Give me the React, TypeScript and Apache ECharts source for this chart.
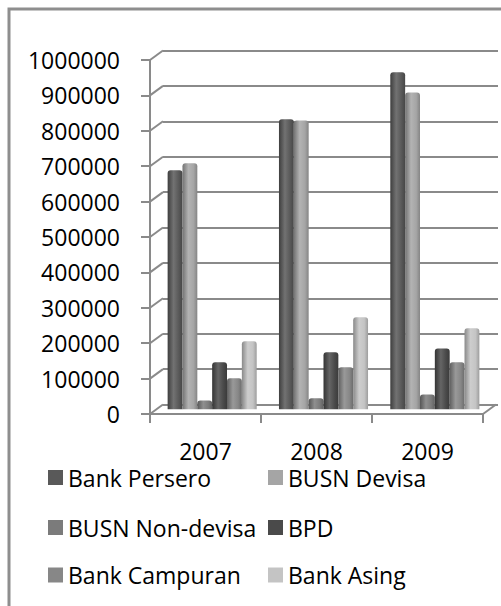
import React, { useEffect, useRef } from "react";
import * as echarts from "echarts";

const categories = ["2007", "2008", "2009"];
const seriesNames = ["Bank Persero", "BUSN Devisa", "BUSN Non-devisa", "BPD", "Bank Campuran", "Bank Asing"];
const bankPersero = [675000, 819000, 952000];
const busnDevisa = [695000, 816000, 895000];
const busnNonDevisa = [25000, 31000, 42000];
const bpd = [133000, 161000, 172000];
const bankCampuran = [88000, 119000, 133000];
const bankAsing = [192000, 260000, 229000];
const yTicks = [0, 100000, 200000, 300000, 400000, 500000, 600000, 700000, 800000, 900000, 1000000];

const seriesValues = [bankPersero, busnDevisa, busnNonDevisa, bpd, bankCampuran, bankAsing];
const colors = ["#595959", "#a5a5a5", "#7b7b7b", "#4a4a4a", "#878787", "#c4c4c4"];

const FONT = "'Open Sans', 'Noto Sans', sans-serif";
const FS = 23;
const LINE = "#8a8a8a";
const DX = 13;
const DY = -9.5;

function shade(hex: string, f: number): string {
  const n = parseInt(hex.slice(1), 16);
  let r = (n >> 16) & 255, g = (n >> 8) & 255, b = n & 255;
  const adj = (c: number) => {
    const v = f >= 0 ? c + (255 - c) * f : c * (1 + f);
    return Math.max(0, Math.min(255, Math.round(v)));
  };
  r = adj(r); g = adj(g); b = adj(b);
  return "#" + [r, g, b].map((c) => c.toString(16).padStart(2, "0")).join("");
}

function cylinder(c: string) {
  return new echarts.graphic.LinearGradient(0, 0, 1, 0, [
    { offset: 0, color: shade(c, -0.3) },
    { offset: 0.4, color: shade(c, 0.15) },
    { offset: 0.75, color: c },
    { offset: 1, color: shade(c, -0.2) },
  ]);
}

export default function App() {
  const ref = useRef<HTMLDivElement>(null);
  useEffect(() => {
    const chart = echarts.init(ref.current!, null, { renderer: "svg" });
    const rows: string[][] = [];
    for (let i = 0; i < seriesNames.length; i += 2) rows.push(seriesNames.slice(i, i + 2));
    const rowTops = [466, 516, 563.5];
    const nameColor: Record<string, string> = {};
    seriesNames.forEach((n, i) => (nameColor[n] = colors[i]));

    const option: any = {
      animation: false,
      backgroundColor: "#ffffff",
      graphic: [
        {
          type: "rect",
          shape: { x: 9, y: 9, width: 700, height: 700 },
          style: { fill: "none", stroke: "#8e8e8e", lineWidth: 3 },
          silent: true,
          z: 0,
        },
      ],
      grid: [
        { left: 150, top: 60, width: 333, height: 354 },
        { left: 150 + DX, top: 60 + DY, width: 335, height: 354 },
        { left: 156.5, top: 55.3, width: 334, height: 354 },
      ],
      xAxis: [
        {
          gridIndex: 0,
          type: "category",
          data: categories,
          axisLine: { show: true, lineStyle: { color: LINE, width: 2 } },
          axisTick: { show: true, length: 9, lineStyle: { color: LINE, width: 2 } },
          axisLabel: { color: "#000", fontSize: FS, fontFamily: FONT, margin: 29, lineHeight: 16 },
          splitLine: { show: false },
        },
        { gridIndex: 1, type: "category", data: categories, show: false },
        { gridIndex: 2, type: "category", data: categories, show: false },
      ],
      yAxis: [
        {
          gridIndex: 0,
          type: "value",
          min: 0,
          max: 1000000,
          interval: 100000,
          axisLine: { show: true, lineStyle: { color: LINE, width: 2 } },
          axisTick: { show: true, length: 9, lineStyle: { color: LINE, width: 2 } },
          axisLabel: {
            color: "#000",
            fontSize: FS,
            fontFamily: FONT,
            margin: 30,
            formatter: (v: number) => String(v),
          },
          splitLine: { show: false },
        },
        {
          gridIndex: 1,
          type: "value",
          min: 0,
          max: 1000000,
          interval: 100000,
          axisLine: { show: false },
          axisTick: { show: false },
          axisLabel: { show: false },
          splitLine: { show: true, lineStyle: { color: LINE, width: 2 } },
        },
        {
          gridIndex: 2,
          type: "value",
          min: 0,
          max: 1000000,
          interval: 100000,
          show: false,
          splitLine: { show: false },
        },
      ],
      legend: rows.map((names, i) => ({
        data: names.map((n, j) => ({
          name: n,
          itemStyle: { color: nameColor[n] },
          textStyle: j === 0 ? { width: 190 } : {},
        })),
        left: 48,
        top: rowTops[i],
        orient: "horizontal",
        itemWidth: 15,
        itemHeight: 15,
        itemGap: 10,
        padding: 0,
        icon: "rect",
        selectedMode: false,
        textStyle: { fontSize: FS, fontFamily: FONT, color: "#000", lineHeight: 16 },
      })),
      series: [
        ...seriesNames.map((name, i) => ({
          name,
          type: "bar",
          xAxisIndex: 2,
          yAxisIndex: 2,
          data: seriesValues[i],
          barGap: "0%",
          barCategoryGap: "20%",
          itemStyle: { color: cylinder(colors[i]), borderRadius: [3, 3, 0, 0] },
          z: 3,
        })),
        {
          name: "wallEdges",
          type: "custom",
          xAxisIndex: 0,
          yAxisIndex: 0,
          silent: true,
          clip: false,
          data: yTicks.map((v) => [0, v]),
          renderItem: (params: any, api: any) => {
            const y = api.coord([0, api.value(1)])[1];
            const x0 = params.coordSys.x;
            return {
              type: "line",
              shape: { x1: x0, y1: y, x2: x0 + DX, y2: y + DY },
              style: { stroke: LINE, lineWidth: 2 },
            };
          },
          z: 1,
        },
        {
          name: "floorEdge",
          type: "custom",
          xAxisIndex: 0,
          yAxisIndex: 0,
          silent: true,
          clip: false,
          data: [[categories.length - 1, yTicks[0]]],
          renderItem: (params: any, api: any) => {
            const y = api.coord([0, api.value(1)])[1];
            const x0 = params.coordSys.x + params.coordSys.width;
            return {
              type: "line",
              shape: { x1: x0, y1: y, x2: x0 + DX, y2: y + DY },
              style: { stroke: LINE, lineWidth: 2 },
            };
          },
          z: 1,
        },
      ],
    };
    chart.setOption(option);
    return () => chart.dispose();
  }, []);
  return (
    <div
      ref={ref}
      style={{ position: "absolute", left: 0, top: 0, width: 501, height: 606 }}
    />
  );
}
